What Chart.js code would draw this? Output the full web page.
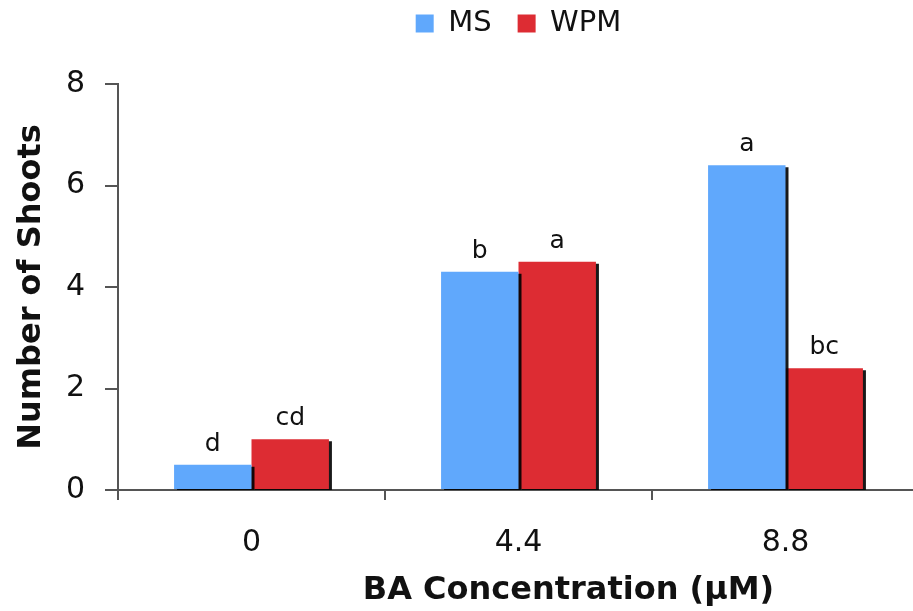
<!DOCTYPE html>
<html>
<head>
<meta charset="utf-8">
<script src="https://cdn.jsdelivr.net/npm/chart.js@4.4.1/dist/chart.umd.min.js"></script>
<style>
  html, body { margin: 0; padding: 0; background: #fff; overflow: hidden; }
  #wrap { width: 913px; height: 611px; overflow: hidden; }
</style>
</head>
<body>
<div id="wrap"><canvas id="chart-shoots" width="930" height="611"></canvas></div>
<script>
// BA concentration (µM) on the x axis
const categories = ['0', '4.4', '8.8'];
const msValues = [0.5, 4.3, 6.4];
const wpmValues = [1.0, 4.5, 2.4];
// significance letters above each bar
const msLetters = ['d', 'b', 'a'];
const wpmLetters = ['cd', 'a', 'bc'];
const yTicks = [0, 2, 4, 6, 8];

const FONT = 'DejaVu Sans, Verdana, sans-serif';
const AXIS_COLOR = '#555555';

// dark drop shadow on the bars
const barShadow = {
    id: 'barShadow',
    beforeDatasetDraw(chart) {
        const ctx = chart.ctx;
        ctx.save();
        ctx.shadowColor = 'rgba(0, 0, 0, 0.9)';
        ctx.shadowOffsetX = 3;
        ctx.shadowOffsetY = 2;
        ctx.shadowBlur = 0;
    },
    afterDatasetDraw(chart) {
        chart.ctx.restore();
    }
};

// letters above the bars
const letterLabels = {
    id: 'letterLabels',
    afterDatasetsDraw(chart) {
        const ctx = chart.ctx;
        const letters = [msLetters, wpmLetters];
        ctx.save();
        ctx.font = '25px ' + FONT;
        ctx.fillStyle = '#111';
        ctx.textAlign = 'center';
        ctx.textBaseline = 'bottom';
        chart.data.datasets.forEach((ds, i) => {
            chart.getDatasetMeta(i).data.forEach((bar, j) => {
                ctx.fillText(letters[i][j], bar.x, bar.y - 8);
            });
        });
        ctx.restore();
    }
};

// x axis title, sits a bit right of centre in the original
const xTitle = {
    id: 'xTitle',
    afterDraw(chart) {
        const ctx = chart.ctx;
        const area = chart.chartArea;
        ctx.save();
        ctx.font = 'bold 32px ' + FONT;
        ctx.fillStyle = '#111';
        ctx.textAlign = 'center';
        ctx.textBaseline = 'middle';
        ctx.fillText('BA Concentration (µM)', (area.left + area.right) / 2 + 50, chart.height - 20);
        ctx.restore();
    }
};

// leave a gap under the legend before the plot starts
const legendGap = {
    id: 'legendGap',
    beforeLayout(chart) {
        const legend = chart.legend;
        if (!legend || legend._gapPatched) return;
        const fit = legend.fit;
        legend.fit = function () {
            fit.call(this);
            this.height = 101;
        };
        legend._gapPatched = true;
    }
};

const ctx = document.getElementById('chart-shoots').getContext('2d');
new Chart(ctx, {
    type: 'bar',
    data: {
        labels: categories,
        datasets: [
            {
                label: 'MS',
                data: msValues,
                backgroundColor: '#60a8fc',
                borderWidth: 0,
                barPercentage: 1.0,
                categoryPercentage: 0.58
            },
            {
                label: 'WPM',
                data: wpmValues,
                backgroundColor: '#dd2c33',
                borderWidth: 0,
                barPercentage: 1.0,
                categoryPercentage: 0.58
            }
        ]
    },
    options: {
        responsive: false,
        animation: false,
        layout: {
            padding: { top: -17, right: 11, left: 0, bottom: 0 }
        },
        plugins: {
            legend: {
                display: true,
                position: 'top',
                fullSize: false,
                labels: {
                    color: '#111',
                    boxWidth: 18,
                    boxHeight: 18,
                    padding: 26,
                    font: { family: FONT, size: 29 }
                }
            },
            tooltip: { enabled: false }
        },
        scales: {
            x: {
                offset: true,
                grid: {
                    offset: true,
                    drawOnChartArea: false,
                    drawTicks: true,
                    tickLength: 10,
                    color: AXIS_COLOR,
                    lineWidth: 2
                },
                border: { color: AXIS_COLOR, width: 2 },
                ticks: {
                    color: '#111',
                    padding: 25,
                    font: { family: FONT, size: 30 }
                },
                afterFit(scale) { scale.height = 121; }
            },
            y: {
                min: 0,
                max: 8,
                afterBuildTicks(scale) {
                    scale.ticks = yTicks.map(v => ({ value: v }));
                },
                grid: {
                    drawOnChartArea: false,
                    drawTicks: true,
                    tickLength: 13,
                    color: AXIS_COLOR,
                    lineWidth: 2
                },
                border: { color: AXIS_COLOR, width: 2 },
                ticks: {
                    color: '#111',
                    padding: 20,
                    font: { family: FONT, size: 30 }
                },
                title: {
                    display: true,
                    text: 'Number of Shoots',
                    color: '#111',
                    font: { family: FONT, size: 32, weight: 'bold' },
                    padding: { top: 12, bottom: 0 }
                },
                afterFit(scale) { scale.width = 118; }
            }
        }
    },
    plugins: [barShadow, letterLabels, xTitle, legendGap]
});
</script>
</body>
</html>
